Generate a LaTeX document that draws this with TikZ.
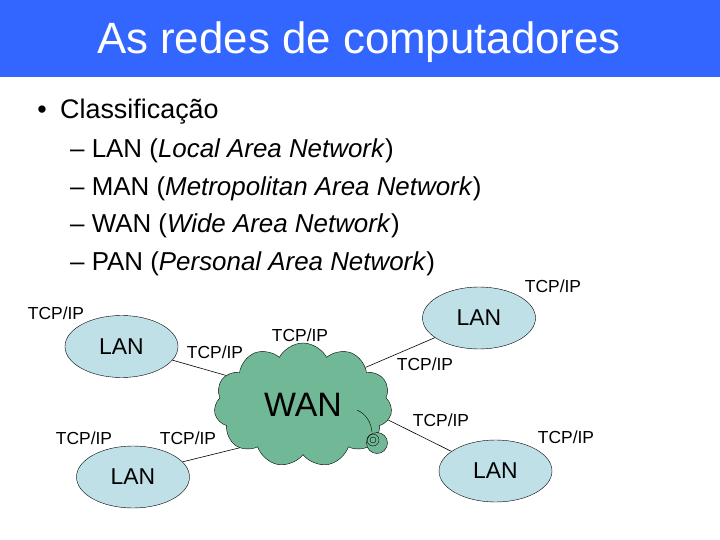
\documentclass[tikz,border=0pt]{standalone}
\usepackage{fontspec}
\setmainfont{Liberation Sans}
\usetikzlibrary{shapes.geometric,shapes.symbols}
\definecolor{titlebar}{RGB}{51,102,255}
\definecolor{lanfill}{RGB}{190,224,230}
\definecolor{wanfill}{RGB}{112,184,150}
\tikzset{
  lan/.style={ellipse, draw, fill=lanfill, minimum width=113bp, minimum height=62bp, inner sep=0pt, font=\fontsize{23}{23}\selectfont},
  wan/.style={cloud, draw, fill=wanfill, cloud puffs=11, cloud puff arc=125, aspect=1.45, minimum width=178bp, minimum height=124bp, inner sep=0pt, font=\fontsize{34}{34}\selectfont},
  proto/.style={font=\fontsize{17.5}{17.5}\selectfont, inner sep=0pt},
  item/.style={anchor=base west, inner sep=0pt, font=\fontsize{26}{26}\selectfont},
  link/.style={line width=0.6bp},
}

\begin{document}
\begin{tikzpicture}[x=1bp,y=-1bp]
  \useasboundingbox (0,0) rectangle (720,540);
  \def\xi{70};
  \def\ya{158};
  \def\dy{37.5};
  \fill[titlebar] (0,0) rectangle (720,77);
  \node[white, anchor=base, inner sep=0pt, font=\fontsize{44}{44}\selectfont] (title) at (359,54) {As redes de computadores};
  \node[anchor=base, inner sep=0pt, font=\fontsize{27}{27}\selectfont] (bullet) at (42,119) {\textbullet};
  \node[anchor=base west, inner sep=0pt, font=\fontsize{27}{27}\selectfont] (classif) at (60,119) {Classificação};
  \node[item] (itemlan) at (\xi,\ya) {– LAN (\textit{Local Area Network})};
  \node[item] (itemman) at (\xi,\ya+\dy) {– MAN (\textit{Metropolitan Area Network})};
  \node[item] (itemwan) at (\xi,\ya+2*\dy) {– WAN (\textit{Wide Area Network})};
  \node[item] (itempan) at (\xi,\ya+3*\dy) {– PAN (\textit{Personal Area Network})};
  %networks
  \node[lan] (lanUL) at (121.5,346.5) {LAN};
  \node[lan] (lanLL) at (133,477) {LAN};
  \node[lan] (lanUR) at (479,318) {LAN};
  \node[lan] (lanLR) at (495.5,471) {LAN};
  \node[wan] (wan) at (303,405) {WAN};
  \draw (357,410) .. controls (366,414) and (371,422) .. (372,432);
  \draw[fill=wanfill] (377,443) circle (10.5bp);
  \draw (373,440) circle (6bp);
  \draw (373,440) circle (3bp);
  \draw[link] (lanUL.-15) -- (wan.159);
  \draw[link] (lanLL.17) -- (wan.214);
  \draw[link] (lanUR.204) -- (wan.31);
  \draw[link] (lanLR.156) -- (wan.-10);
  %protocols
  \node[proto] (tcpUL) at (56,313) {TCP/IP};
  \node[proto] (tcpULwan) at (215,352) {TCP/IP};
  \node[proto] (tcpWAN) at (300,335) {TCP/IP};
  \node[proto] (tcpLL) at (84,438) {TCP/IP};
  \node[proto] (tcpLLwan) at (188,438) {TCP/IP};
  \node[proto] (tcpUR) at (553,286) {TCP/IP};
  \node[proto] (tcpURwan) at (425,364) {TCP/IP};
  \node[proto] (tcpLRwan) at (441,420) {TCP/IP};
  \node[proto] (tcpLR) at (566,437) {TCP/IP};
\end{tikzpicture}
\end{document}
